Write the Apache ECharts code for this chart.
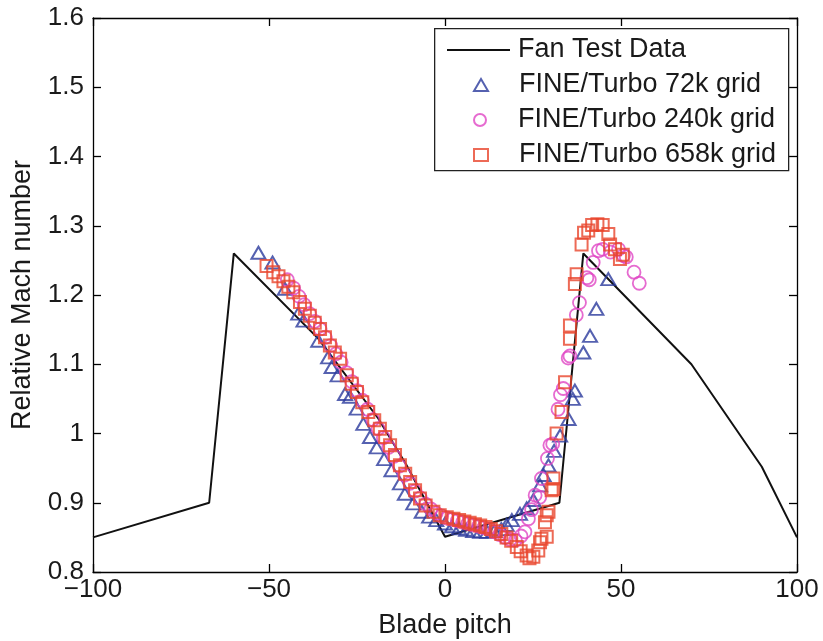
<!DOCTYPE html>
<html><head><meta charset="utf-8">
<script src="https://cdn.jsdelivr.net/npm/echarts@6/dist/echarts.min.js"></script>
<style>html,body{margin:0;padding:0;background:#fff}#c{width:823px;height:641px}</style>
</head><body><div id="c"></div>
<script>
const xTicks = [-100, -50, 0, 50, 100];
const yTicks = [0.8, 0.9, 1, 1.1, 1.2, 1.3, 1.4, 1.5, 1.6];
const seriesNames = ['Fan Test Data', 'FINE/Turbo 72k grid', 'FINE/Turbo 240k grid', 'FINE/Turbo 658k grid'];

const fanX = [-100, -67, -60, -36, -19, -11, 0, 32.5, 39.3, 70, 90, 100];
const fanY = [0.85, 0.9, 1.26, 1.137, 1.022, 0.955, 0.851, 0.9, 1.26, 1.1, 0.952, 0.85];

const g72X = [-53, -49, -45.5, -41.7, -40.2, -36, -33.2, -32.2, -30.5, -28.4, -27, -25.1, -23.2, -21.3, -19.4, -17.3, -15.2, -12.8, -11.4, -9, -6.6, -4.5, -2.5, 0, 2, 4, 6, 8, 10, 12, 14, 16, 17.5, 19, 21.3, 23.2, 25.1, 27, 28, 29.4, 31, 32.7, 35.1, 36.3, 36.9, 39.3, 41.2, 43, 46.4];
const g72Y = [1.261, 1.247, 1.209, 1.173, 1.163, 1.134, 1.11, 1.096, 1.084, 1.057, 1.053, 1.036, 1.014, 0.995, 0.98, 0.963, 0.947, 0.928, 0.913, 0.899, 0.887, 0.88, 0.875, 0.87, 0.866, 0.863, 0.861, 0.859, 0.858, 0.858, 0.859, 0.862, 0.868, 0.875, 0.884, 0.892, 0.904, 0.925, 0.94, 0.954, 0.975, 0.997, 1.021, 1.05, 1.062, 1.117, 1.141, 1.18, 1.223];

const g240X = [-44.8, -43, -41.5, -40, -38.5, -37, -35.5, -34, -32.5, -31, -29.5, -28, -26.5, -25, -23.5, -22, -20.5, -19, -17.5, -16, -14.5, -13, -11.5, -10, -8.5, -7, -5.5, -4, -2.5, -1, 0.5, 2, 3.5, 5, 6.5, 8, 9.5, 11, 12.5, 14, 15.5, 17, 18.5, 20, 21.6, 22.7, 23.7, 24.6, 25.6, 26.9, 27.4, 29.1, 29.8, 30.6, 32.1, 32.8, 33.6, 35, 35.5, 37.3, 38.2, 40.3, 41, 42.1, 43.6, 44.8, 47, 49.3, 50.7, 51.5, 53.7, 55.2];
const g240Y = [1.222, 1.21, 1.198, 1.186, 1.173, 1.162, 1.151, 1.139, 1.127, 1.115, 1.103, 1.088, 1.075, 1.062, 1.048, 1.035, 1.02, 1.007, 0.994, 0.98, 0.967, 0.953, 0.94, 0.928, 0.917, 0.907, 0.898, 0.891, 0.885, 0.881, 0.878, 0.876, 0.874, 0.872, 0.87, 0.868, 0.866, 0.864, 0.862, 0.858, 0.854, 0.85, 0.847, 0.846, 0.852, 0.858, 0.877, 0.89, 0.911, 0.908, 0.935, 0.964, 0.983, 0.985, 1.035, 1.056, 1.065, 1.109, 1.112, 1.171, 1.189, 1.225, 1.222, 1.247, 1.264, 1.266, 1.262, 1.266, 1.257, 1.255, 1.233, 1.217];

const g658X = [-50.7, -48.8, -47.3, -45.9, -44.5, -43.1, -41.2, -39.8, -38.4, -37, -35.5, -34.1, -32.7, -31.3, -29.8, -27.9, -26.5, -25, -23.5, -21.8, -20.1, -18.5, -17, -15.6, -14.2, -12.8, -11.3, -9.9, -8.5, -7.1, -5.5, -3.3, -1.5, 0.5, 2.4, 4, 5.5, 7, 8.5, 10, 11.5, 13, 14.5, 16, 17.5, 18.8, 20.4, 21.5, 23.2, 24, 25.1, 26.5, 27, 27.4, 28.9, 28.4, 28.9, 29.4, 30.3, 30.8, 30.8, 31.7, 33.1, 34.1, 35.5, 35.5, 36.9, 37.4, 38.8, 39.5, 40.7, 41.8, 43.3, 44.8, 46.4, 46.9, 48.3, 49.7, 50.5];
const g658Y = [1.242, 1.233, 1.227, 1.22, 1.212, 1.204, 1.19, 1.18, 1.17, 1.16, 1.151, 1.139, 1.127, 1.117, 1.108, 1.084, 1.072, 1.06, 1.045, 1.031, 1.019, 1.007, 0.995, 0.983, 0.969, 0.954, 0.942, 0.93, 0.918, 0.906, 0.896, 0.887, 0.882, 0.879, 0.877, 0.875, 0.873, 0.871, 0.869, 0.867, 0.865, 0.862, 0.859, 0.855, 0.85, 0.845, 0.836, 0.83, 0.824, 0.82, 0.822, 0.831, 0.843, 0.848, 0.851, 0.872, 0.882, 0.887, 0.918, 0.92, 0.935, 1.0, 1.031, 1.074, 1.137, 1.156, 1.216, 1.23, 1.273, 1.29, 1.293, 1.301, 1.302, 1.301, 1.288, 1.273, 1.266, 1.252, 1.258];

const zip = (xs, ys) => xs.map((x, i) => [x, ys[i]]);
const FONT = 'Liberation Sans, Arial, Helvetica, sans-serif';
const minus = v => String(v).replace('-', '\u2212');
const TXT = '#1a1a1a';

const chart = echarts.init(document.getElementById('c'), null, {renderer: 'canvas'});
const axisCommon = {
  axisLine: {show: true, onZero: false, lineStyle: {color: '#000', width: 1.3}},
  axisTick: {show: true, inside: true, length: 8, lineStyle: {color: '#000', width: 1.3}},
  splitLine: {show: false}
};
const legText = {fontFamily: FONT, fontSize: 27, lineHeight: 28, color: TXT};
const symLegend = (name, top) => ({
  orient: 'vertical', left: 473, top: top, padding: 0, itemWidth: 14, itemHeight: 12,
  textStyle: Object.assign({padding: [0, 0, 0, 26]}, legText), data: [name], z: 6
});
chart.setOption({
  animation: false,
  backgroundColor: '#fff',
  grid: {left: 93, right: 26, top: 18, bottom: 69, containLabel: false, outerBoundsMode: 'none'},
  graphic: [{type: 'rect', left: 434, top: 28, z: 5,
    shape: {width: 354, height: 142},
    style: {fill: '#fff', stroke: '#222', lineWidth: 1.3}}],
  xAxis: [
    Object.assign({type: 'value', min: -100, max: 100, interval: 50, position: 'bottom',
      name: 'Blade pitch', nameLocation: 'middle', nameGap: 40,
      nameTextStyle: {fontFamily: FONT, fontSize: 27, color: TXT},
      axisLabel: {fontFamily: FONT, fontSize: 26, color: TXT, margin: 5,
        formatter: v => xTicks.includes(v) ? minus(v) : ''}}, axisCommon),
    Object.assign({type: 'value', min: -100, max: 100, interval: 50, position: 'top',
      axisLabel: {show: false}}, axisCommon)
  ],
  yAxis: [
    Object.assign({type: 'value', min: 0.8, max: 1.6, interval: 0.1, position: 'left',
      name: 'Relative Mach number', nameLocation: 'middle', nameGap: 57, nameRotate: 90,
      nameTextStyle: {fontFamily: FONT, fontSize: 27, color: TXT},
      axisLabel: {fontFamily: FONT, fontSize: 26, color: TXT, margin: 9,
        formatter: v => { const r = Math.round(v * 10) / 10; return yTicks.includes(r) ? String(r) : ''; }}}, axisCommon),
    Object.assign({type: 'value', min: 0.8, max: 1.6, interval: 0.1, position: 'right',
      axisLabel: {show: false}}, axisCommon)
  ],
  legend: [
    {orient: 'vertical', left: 447, top: 36, padding: 0, itemWidth: 63, itemHeight: 2,
      textStyle: Object.assign({padding: [0, 0, 0, 3]}, legText),
      data: [{name: seriesNames[0], icon: 'rect'}], z: 6},
    symLegend(seriesNames[1], 71),
    symLegend(seriesNames[2], 106),
    symLegend(seriesNames[3], 141)
  ],
  series: [
    {name: seriesNames[0], type: 'line', data: zip(fanX, fanY), showSymbol: false, symbol: 'none',
      lineStyle: {color: '#111', width: 2}, itemStyle: {color: '#111'}, z: 2},
    {name: seriesNames[1], type: 'scatter', data: zip(g72X, g72Y), symbol: 'triangle', symbolSize: [14, 12],
      itemStyle: {color: 'rgba(0,0,0,0)', borderColor: '#2b3a9c', borderWidth: 2}, z: 2},
    {name: seriesNames[2], type: 'scatter', data: zip(g240X, g240Y), symbol: 'circle', symbolSize: 13,
      itemStyle: {color: 'rgba(0,0,0,0)', borderColor: '#e046c4', borderWidth: 1.8}, z: 2},
    {name: seriesNames[3], type: 'scatter', data: zip(g658X, g658Y), symbol: 'rect', symbolSize: 12,
      itemStyle: {color: 'rgba(0,0,0,0)', borderColor: '#e8452c', borderWidth: 2}, z: 2}
  ]
});
</script></body></html>
